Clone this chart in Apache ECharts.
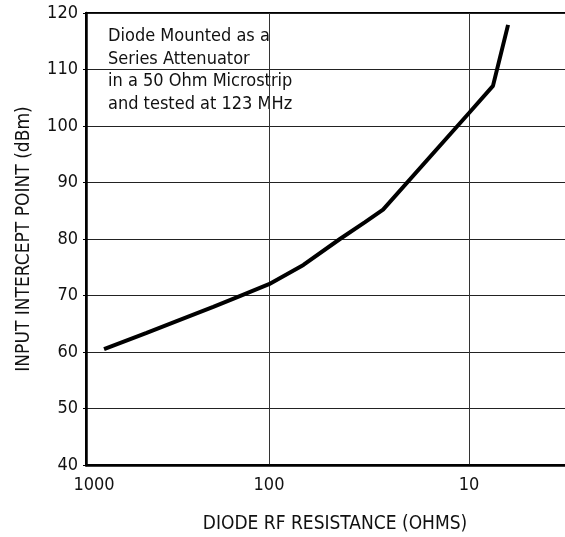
<!DOCTYPE html>
<html>
<head>
<meta charset="utf-8">
<script src="https://cdn.jsdelivr.net/npm/echarts@6/dist/echarts.min.js"></script>
<style>html,body{margin:0;padding:0;background:#fff}#c{width:565px;height:537px}</style>
</head>
<body>
<div id="c"></div>
<script>
// Diode RF resistance (ohms) and input intercept point (dBm)
const resistance = [668, 409, 279, 190, 140, 100, 67.3, 44.2, 33.1, 26.9, 10, 7.59, 6.38];
const interceptPoint = [60.5, 63.4, 65.7, 68.0, 69.9, 72.0, 75.4, 80.0, 83.0, 85.2, 102.3, 107.1, 117.9];
const yTicks = [40, 50, 60, 70, 80, 90, 100, 110, 120];
const xTickLabels = ['1000', '100', '10'];
const noteLines = ['Diode Mounted as a', 'Series Attenuator', 'in a 50 Ohm Microstrip', 'and tested at 123 MHz'];
const xTitle = 'DIODE RF RESISTANCE (OHMS)';
const yTitle = 'INPUT INTERCEPT POINT (dBm)';

const FONT = '"Liberation Sans Narrow", "DejaVu Sans Condensed", "Roboto", sans-serif';
const chart = echarts.init(document.getElementById('c'));
const xMin = 3.2, xMax = 822.2;

chart.setOption({
  animation: false,
  grid: { left: 86, top: 13, right: -3, bottom: 72, show: true, borderColor: '#000', borderWidth: 2,
          containLabel: false, outerBoundsMode: 'none' },
  xAxis: {
    type: 'log', logBase: 10, inverse: true, min: xMin, max: xMax,
    name: xTitle, nameLocation: 'middle', nameGap: 50,
    nameTextStyle: { fontFamily: FONT, fontSize: 19, color: '#111', padding: [0, 0, 0, 16] },
    axisLine: { show: true, lineStyle: { color: '#000', width: 2.5 } },
    axisTick: { show: false },
    axisLabel: {
      showMinLabel: true, showMaxLabel: true, margin: 11,
      fontFamily: FONT, fontSize: 18, color: '#111',
      formatter: function (v) {
        if (v > 500) return '{s|' + xTickLabels[0] + '}';
        if (Math.abs(v - 100) < 1) return xTickLabels[1];
        if (Math.abs(v - 10) < 0.1) return xTickLabels[2];
        return '';
      },
      rich: { s: { fontFamily: FONT, fontSize: 18, color: '#111', padding: [0, 0, 0, 16] } }
    },
    splitLine: { show: true, lineStyle: { color: '#333', width: 1 } }
  },
  yAxis: {
    type: 'value', min: yTicks[0], max: yTicks[yTicks.length - 1], interval: 10,
    name: yTitle, nameLocation: 'middle', nameGap: 52,
    nameTextStyle: { fontFamily: FONT, fontSize: 19, color: '#111' },
    axisLine: { show: true, lineStyle: { color: '#000', width: 2.5 } },
    axisTick: { show: true, length: 3, lineStyle: { color: '#000' } },
    axisLabel: { fontFamily: FONT, fontSize: 18, color: '#111', margin: 8 },
    splitLine: { show: true, lineStyle: { color: '#222', width: 1 } }
  },
  series: [{
    type: 'line',
    data: resistance.map((r, i) => [r, interceptPoint[i]]),
    showSymbol: false, smooth: false,
    lineStyle: { color: '#000', width: 4 },
    z: 5
  }],
  graphic: [{
    type: 'group', z: 10,
    children: [
      { type: 'rect', shape: { x: 93, y: 22, width: 226, height: 98 }, style: { fill: '#fff' } },
      { type: 'text', x: 108, y: 25, style: {
        text: noteLines.join('\n'), font: '18px ' + FONT, fill: '#111', lineHeight: 22.7 } }
    ]
  }]
});
</script>
</body>
</html>
